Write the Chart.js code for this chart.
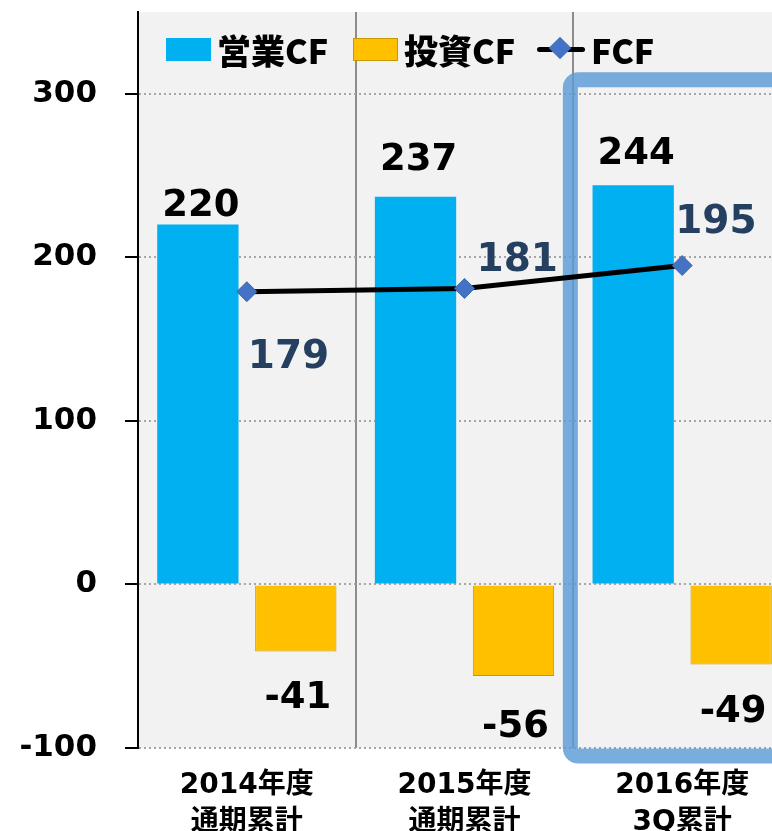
<!DOCTYPE html>
<html>
<head>
<meta charset="utf-8">
<script src="https://cdn.jsdelivr.net/npm/chart.js@4.4.1/dist/chart.umd.min.js"></script>
<style>
  body { margin: 0; background: #fff; overflow: hidden; }
  #wrap { position: relative; width: 802px; height: 831px; }
  #legend { position: absolute; left: 0; top: 0; font-family: "Noto Sans CJK JP", sans-serif; font-weight: 900; font-size: 34px; color: #000; }
  .item { position: absolute; top: 29px; height: 40px; display: flex; align-items: center; white-space: nowrap; }
  .box { width: 45px; height: 23px; margin-right: 6px; box-sizing: border-box; }
  .ln { position: relative; width: 48px; height: 5px; background: #000; margin-right: 6px; border-radius: 3px; }
  .ln span { position: absolute; left: 15px; top: -7px; width: 16px; height: 16px; background: #4472c4; transform: rotate(45deg); }
</style>
</head>
<body>
<div id="wrap">
  <canvas id="myChart" width="802" height="831"></canvas>
  <div id="legend"></div>
</div>
<script>
let categories = [['2014年度', '通期累計'], ['2015年度', '通期累計'], ['2016年度', '3Q累計']]
let opCF = [220, 237, 244]
let invCF = [-41, -56, -49]
let fcf = [179, 181, 195]
let yTicks = [-100, 0, 100, 200, 300]

let corAzul = '#00b0f0'
let corLaranja = '#ffc000'
let corPonto = '#4472c4'
let corNavy = '#243f60'
let fonte = '"DejaVu Sans", "Noto Sans CJK JP", sans-serif'

// label nudges
let opGap = [9, 27, 21]
let invGap = [56, 61, 57]
let fcfDx = [1, 12, -7]
let fcfDy = [76, -17, -33]

const plotBg = {
    id: 'plotBg',
    beforeDraw(chart) {
        const { ctx, chartArea: a } = chart
        ctx.save()
        ctx.fillStyle = '#f2f2f2'
        ctx.fillRect(a.left, a.top, a.right - a.left, a.bottom - a.top)
        ctx.restore()
    }
}

const highlight = {
    id: 'highlight',
    beforeDatasetsDraw(chart) {
        const ctx = chart.ctx
        const x = chart.scales.x, y = chart.scales.y
        const left = (x.getPixelForValue(1) + x.getPixelForValue(2)) / 2 - 3
        const top = y.getPixelForValue(300) - 14
        const bottom = y.getPixelForValue(-100) + 8
        const right = chart.width + 30
        ctx.save()
        ctx.strokeStyle = 'rgba(91, 155, 213, 0.82)'
        ctx.lineWidth = 15
        ctx.beginPath()
        ctx.roundRect(left, top, right - left, bottom - top, 8)
        ctx.stroke()
        ctx.restore()
    }
}

const valueLabels = {
    id: 'valueLabels',
    afterDatasetsDraw(chart) {
        const ctx = chart.ctx
        ctx.save()
        ctx.textBaseline = 'alphabetic'
        ctx.font = 'bold 37px ' + fonte
        ctx.fillStyle = '#000'
        ctx.textAlign = 'center'
        chart.getDatasetMeta(0).data.forEach((bar, i) => {
            ctx.fillText(opCF[i], bar.x + 3, bar.y - opGap[i])
        })
        chart.getDatasetMeta(1).data.forEach((bar, i) => {
            ctx.fillText(invCF[i], bar.x + 2, bar.y + invGap[i])
        })
        ctx.font = 'bold 39px ' + fonte
        ctx.fillStyle = corNavy
        ctx.textAlign = 'left'
        chart.getDatasetMeta(2).data.forEach((pt, i) => {
            ctx.fillText(fcf[i], pt.x + fcfDx[i], pt.y + fcfDy[i])
        })
        ctx.restore()
    }
}

const ctx = document.getElementById('myChart').getContext('2d')
let myChart = new Chart(ctx, {
    data: {
        labels: categories,
        datasets: [{
            type: 'bar',
            label: '営業CF',
            data: opCF,
            backgroundColor: corAzul,
            borderWidth: 0,
            categoryPercentage: 0.9,
            barPercentage: 0.83,
            order: 2
        }, {
            type: 'bar',
            label: '投資CF',
            data: invCF,
            backgroundColor: corLaranja,
            borderColor: '#c49a00',
            borderWidth: 1,
            categoryPercentage: 0.9,
            barPercentage: 0.83,
            order: 2
        }, {
            type: 'line',
            label: 'FCF',
            data: fcf,
            borderColor: '#000',
            borderWidth: 5,
            pointStyle: 'rectRot',
            pointRadius: 10,
            pointBackgroundColor: corPonto,
            pointBorderColor: '#3d67b0',
            pointBorderWidth: 1,
            order: 1
        }]
    },
    options: {
        responsive: false,
        animation: false,
        layout: { padding: { top: 12, right: 0, left: 0, bottom: 0 } },
        plugins: {
            legend: { display: false },
            tooltip: { enabled: false }
        },
        scales: {
            x: {
                offset: true,
                grid: {
                    offset: true,
                    color: (c) => c.index === 0 ? 'rgba(0,0,0,0)' : '#8c8c8c',
                    lineWidth: 2,
                    drawTicks: false
                },
                border: { display: false },
                ticks: {
                    color: '#000',
                    font: { family: fonte, size: 28, weight: 'bold', lineHeight: 1.3 },
                    padding: 20,
                    maxRotation: 0,
                    autoSkip: false
                },
                afterFit(scale) {
                    scale.height = 83
                    scale.paddingLeft = 0
                    scale.paddingRight = 0
                }
            },
            y: {
                min: -100,
                max: 350,
                afterBuildTicks(axis) {
                    axis.ticks = yTicks.map(v => ({ value: v }))
                },
                grid: {
                    color: '#a6a6a6',
                    lineWidth: 2,
                    tickLength: 13,
                    tickColor: '#000',
                    tickWidth: 2,
                    tickBorderDash: []
                },
                border: { color: '#000', width: 2, dash: [2, 3] },
                ticks: {
                    color: '#000',
                    font: { family: fonte, size: 31, weight: 'bold' },
                    padding: 28
                },
                afterFit(scale) {
                    scale.width = 138
                    scale.paddingTop = 0
                    scale.paddingBottom = 0
                }
            }
        }
    },
    plugins: [plotBg, highlight, valueLabels]
})

// legend built from the datasets
function legenda() {
    let html = ''
    let lefts = [166, 353, 537]
    myChart.data.datasets.forEach((ds, i) => {
        let marca = ''
        if (ds.type === 'line') {
            marca = '<div class="ln"><span></span></div>'
        } else {
            let borda = ds.borderWidth ? 'border:1px solid ' + ds.borderColor + ';' : ''
            marca = '<div class="box" style="background:' + ds.backgroundColor + ';' + borda + '"></div>'
        }
        html += '<div class="item" style="left:' + lefts[i] + 'px">' + marca + '<span>' + ds.label + '</span></div>'
    })
    document.getElementById('legend').innerHTML = html
}
legenda()
</script>
</body>
</html>
